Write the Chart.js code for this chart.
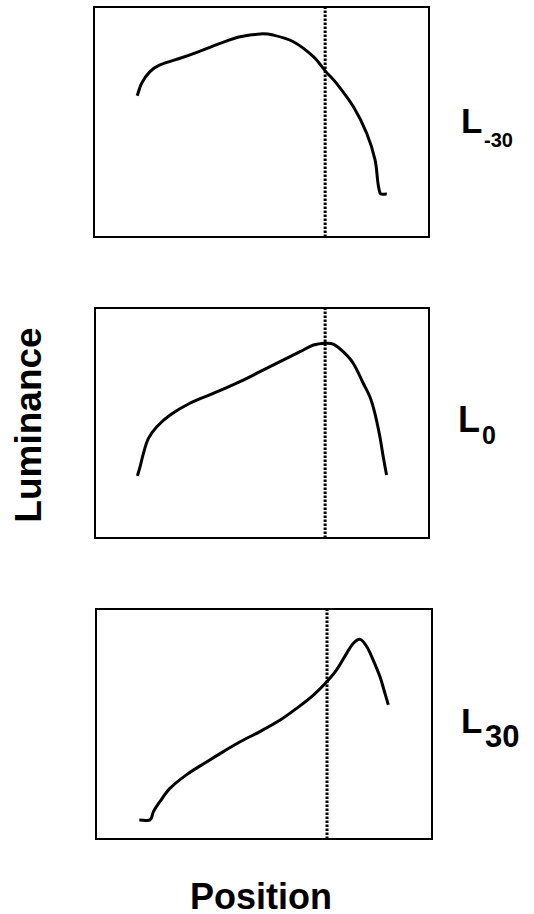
<!DOCTYPE html>
<html>
<head>
<meta charset="utf-8">
<script src="https://cdn.jsdelivr.net/npm/chart.js"></script>
<style>
  body { margin: 0; background: #fff; width: 534px; height: 914px; position: relative; overflow: hidden; }
  canvas { position: absolute; }
  .t { position: absolute; font-family: "Liberation Sans", Arial, sans-serif; font-weight: bold; color: #000; line-height: 1; white-space: nowrap; }
</style>
</head>
<body>
<canvas id="pTop" width="343" height="238" style="left:90px;top:3px"></canvas>
<canvas id="pMid" width="342" height="238" style="left:91px;top:304px"></canvas>
<canvas id="pBot" width="344" height="238" style="left:92px;top:605px"></canvas>

<div class="t" style="left:461px;top:103px;font-size:35px">L</div>
<div class="t" style="left:484px;top:130px;font-size:20px">-30</div>
<div class="t" style="left:458px;top:402px;font-size:36px">L</div>
<div class="t" style="left:482px;top:423px;font-size:25px">0</div>
<div class="t" style="left:461px;top:703px;font-size:35px">L</div>
<div class="t" style="left:485px;top:721px;font-size:31px">30</div>

<div class="t" style="left:28px;top:425px;font-size:37px;transform:translate(-50%,-50%) rotate(-90deg)">Luminance</div>
<div class="t" style="left:261px;top:879px;font-size:36px;transform:translateX(-50%)">Position</div>

<script>
// position (0-100 across each frame) and luminance (0-100 up each frame)
const topPos = [12.9, 14.2, 16.7, 19.7, 25.7, 30.7, 37.6, 43.6, 49.6, 53.5, 59.5, 65.5, 69.2, 72.4, 77.4, 81.4, 83.9, 85.4, 87.4];
const topLum = [61.4, 66.8, 71.9, 74.8, 77.7, 80.3, 84.2, 87.1, 88.3, 87.8, 84.9, 78.4, 71.9, 66.8, 56.7, 45.1, 33.5, 19.0, 18.7];

const midPos = [12.7, 13.5, 14.5, 16.0, 18.5, 22.5, 28.4, 35.4, 42.4, 49.4, 55.4, 61.4, 65.4, 69.1, 71.3, 74.3, 77.3, 80.3, 82.3, 83.8, 85.3, 86.3, 87.3];
const midLum = [27.0, 31.0, 36.8, 43.3, 48.4, 53.5, 58.6, 62.9, 67.3, 72.3, 76.7, 81.0, 83.9, 84.7, 84.3, 81.0, 76.0, 67.3, 61.4, 54.2, 44.0, 35.3, 27.4];

const botPos = [12.9, 16.1, 17.1, 19.0, 22.0, 27.0, 32.9, 37.9, 42.9, 48.8, 54.8, 59.7, 64.7, 68.7, 71.6, 74.6, 76.6, 78.6, 80.6, 82.5, 84.5, 86.0, 87.0];
const botLum = [8.3, 8.3, 11.9, 16.2, 22.0, 28.0, 33.5, 38.0, 42.3, 46.7, 51.7, 56.8, 62.6, 68.4, 73.5, 80.7, 85.1, 86.8, 83.6, 77.8, 70.6, 63.3, 58.3];

// dotted reference line position in each frame
const markerPos = [69.0, 68.9, 68.75];

const frameBorder = {
  id: "frameBorder",
  afterDraw(chart) {
    const { ctx, chartArea: a } = chart;
    ctx.save();
    ctx.strokeStyle = "#000";
    ctx.lineWidth = 2;
    ctx.strokeRect(a.left, a.top, a.right - a.left, a.bottom - a.top);
    ctx.restore();
  }
};

function makePanel(id, xs, ys, marker) {
  new Chart(document.getElementById(id), {
    type: "line",
    data: {
      datasets: [
        {
          data: xs.map((x, i) => ({ x: x, y: ys[i] })),
          borderColor: "#000",
          borderWidth: 3,
          pointRadius: 0,
          tension: 0.35
        },
        {
          data: [{ x: marker, y: 0 }, { x: marker, y: 100 }],
          borderColor: "#000",
          borderWidth: 3,
          borderDash: [2.5, 1.5],
          pointRadius: 0
        }
      ]
    },
    options: {
      responsive: false,
      animation: false,
      layout: { padding: 4 },
      plugins: { legend: { display: false }, tooltip: { enabled: false } },
      scales: {
        x: { type: "linear", min: 0, max: 100, display: false },
        y: { type: "linear", min: 0, max: 100, display: false }
      }
    },
    plugins: [frameBorder]
  });
}

makePanel("pTop", topPos, topLum, markerPos[0]);
makePanel("pMid", midPos, midLum, markerPos[1]);
makePanel("pBot", botPos, botLum, markerPos[2]);
</script>
</body>
</html>
